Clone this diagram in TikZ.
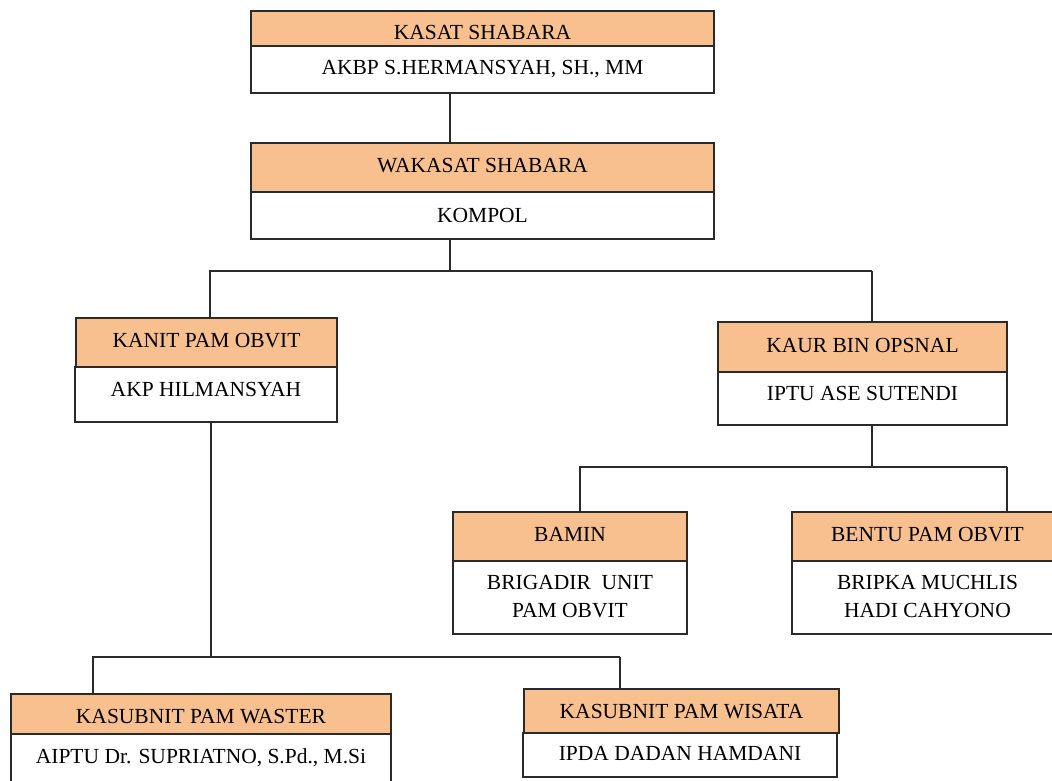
\documentclass[tikz,border=0pt]{standalone}
\usepackage{fontspec}
\setmainfont{Liberation Serif}
\definecolor{hdr}{HTML}{F9C08F}
\definecolor{ln}{HTML}{2A2A2A}
\tikzset{
  orgbox/.style={draw=ln, line width=1.1pt, inner xsep=0pt, inner ysep=0pt, outer sep=0pt,
    minimum height=0pt, anchor=north, align=center, text=black,
    font=\fontsize{21.5}{28}\selectfont},
  head/.style={orgbox, fill=hdr},
  body/.style={orgbox, fill=white},
  link/.style={draw=ln, line width=1.1pt}
}
\begin{document}
\begin{tikzpicture}[x=1pt,y=-1pt]
\useasboundingbox (0,0) rectangle (1052,780);
\clip (0,0) rectangle (1052,780);
\fill[white] (0,0) rectangle (1052,780);
% boxes
\node[head, minimum width=463pt, text height=28pt, text depth=7pt]  (kasath) at (482.5,11) {KASAT SHABARA};
\node[body, minimum width=463pt, text height=28pt, text depth=19pt] (kasatb) at (482.5,46) {AKBP S.HERMANSYAH, SH., MM};
\node[head, minimum width=463pt, text height=29pt, text depth=20pt] (wakah) at (482.5,143) {WAKASAT SHABARA};
\node[body, minimum width=463pt, text height=30pt, text depth=17pt] (wakab) at (482.5,192) {KOMPOL};
\node[head, minimum width=261pt, text height=29pt, text depth=20pt] (kanith) at (206.5,318) {KANIT PAM OBVIT};
\node[body, minimum width=262pt, text height=29pt, text depth=26pt] (kanitb) at (206,367) {AKP HILMANSYAH};
\node[head, minimum width=289pt, text height=30pt, text depth=20pt] (kaurh) at (862.5,322) {KAUR BIN OPSNAL};
\node[body, minimum width=289pt, text height=28pt, text depth=25pt] (kaurb) at (862.5,372) {IPTU ASE SUTENDI};
\node[head, minimum width=234pt, text height=29pt, text depth=20pt] (baminh) at (570,512) {BAMIN};
\node[body, minimum width=234pt, text height=56pt, text depth=17pt] (baminb) at (570,561) {BRIGADIR\ \ UNIT\\PAM OBVIT};
\node[head, minimum width=271pt, text height=29pt, text depth=20pt] (bentuh) at (927.5,512) {BENTU PAM OBVIT};
\node[body, minimum width=271pt, text height=56pt, text depth=17pt] (bentub) at (927.5,561) {BRIPKA MUCHLIS\\HADI CAHYONO};
\node[head, minimum width=380pt, text height=29pt, text depth=11pt] (wasth) at (201,694) {KASUBNIT PAM WASTER};
\node[body, minimum width=380pt, text height=29pt, text depth=40pt] (wastb) at (201,734) {AIPTU Dr. SUPRIATNO, S.Pd., M.Si};
\node[head, minimum width=315pt, text height=29pt, text depth=15pt] (wisah) at (681.5,689) {KASUBNIT PAM WISATA};
\node[body, minimum width=314pt, text height=27pt, text depth=17pt] (wisab) at (680,733) {IPDA DADAN HAMDANI};
% junctions
\coordinate (j0) at (450,118);
\coordinate (j1) at (450,271);
\coordinate (jl) at (210,271);
\coordinate (jr) at (872,271);
\coordinate (j2) at (211,657);
\coordinate (j2l) at (93,657);
\coordinate (j2r) at (620,657);
\coordinate (j3) at (872,467);
\coordinate (j3l) at (580,467);
\coordinate (j3r) at (1007,467);
% connectors
\draw[link] (kasatb.south -| j0) -- (wakah.north -| j0);
\draw[link] (wakab.south -| j1) -- (j1);
\draw[link] (jr) -- (jl) -- (kanith.north -| jl);
\draw[link] (jr) -- (kaurh.north -| jr);
\draw[link] (kanitb.south -| j2) -- (j2);
\draw[link] (j2r) -- (j2l) -- (wasth.north -| j2l);
\draw[link] (j2r) -- (wisah.north -| j2r);
\draw[link] (kaurb.south -| j3) -- (j3);
\draw[link] (j3r) -- (j3l) -- (baminh.north -| j3l);
\draw[link] (j3r) -- (bentuh.north -| j3r);
\end{tikzpicture}
\end{document}
